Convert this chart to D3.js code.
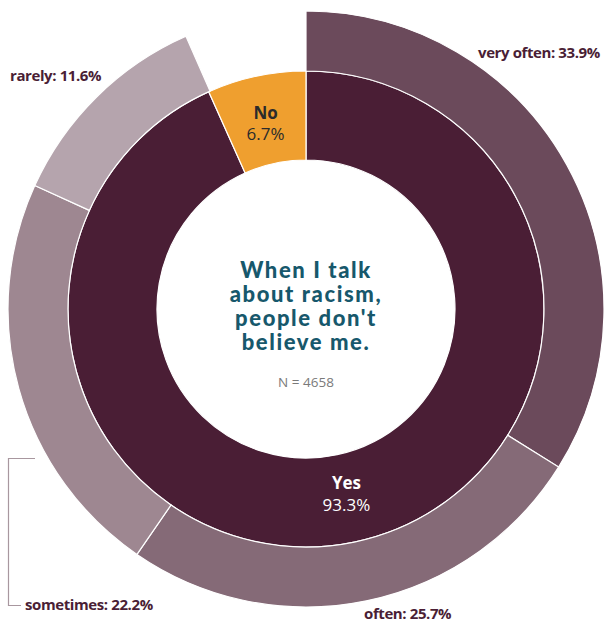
<!DOCTYPE html>
<html>
<head>
<meta charset="utf-8">
<script src="https://cdn.jsdelivr.net/npm/d3@7"></script>
<style>
  html, body { margin: 0; padding: 0; background: #fff; }
  svg { display: block; }
</style>
</head>
<body>
<script>
// Inner ring: yes / no answers (percent of all respondents)
const answerLabels = ["Yes", "No"];
const answerValues = [93.3, 6.7];
const answerColors = ["#4a1e35", "#ef9f2f"];

// Outer ring: how often, for those who answered yes (percent of all respondents)
const freqLabels = ["very often", "often", "sometimes", "rarely"];
const freqValues = [33.9, 25.7, 22.2, 11.6];
const freqColors = ["#6b4a5b", "#856a77", "#9e8791", "#b5a4ad"];

const titleLines = ["When I talk", "about racism,", "people don't", "believe me."];
const sampleNote = "N = 4658";

const W = 605, H = 623;
const cx = 306, cy = 309;
const rInner0 = 149, rInner1 = 238, rOuter1 = 298;

const svg = d3.select("body").append("svg")
  .attr("width", W).attr("height", H);

const g = svg.append("g").attr("transform", `translate(${cx},${cy})`);

// Both rings share one angular scale: 100% of respondents = full circle
const angle = d3.scaleLinear().domain([0, 100]).range([0, 2 * Math.PI]);

const pieInner = d3.pie().sort(null).value(d => d.value)
  .startAngle(angle(0)).endAngle(angle(100));
const innerData = pieInner(answerLabels.map((l, i) => ({ label: l, value: answerValues[i], color: answerColors[i] })));

const arcInner = d3.arc().innerRadius(rInner0).outerRadius(rInner1);

g.selectAll("path.inner").data(innerData).join("path")
  .attr("class", "inner")
  .attr("d", arcInner)
  .attr("fill", d => d.data.color)
  .attr("stroke", "#fff").attr("stroke-width", 1.2);

// Outer ring spans only the "yes" share of the circle
const yesTotal = d3.sum(freqValues);
const pieOuter = d3.pie().sort(null).value(d => d.value)
  .startAngle(angle(0)).endAngle(angle(yesTotal));
const outerData = pieOuter(freqLabels.map((l, i) => ({ label: l, value: freqValues[i], color: freqColors[i] })));

const arcOuter = d3.arc().innerRadius(rInner1).outerRadius(rOuter1);

g.selectAll("path.outer").data(outerData).join("path")
  .attr("class", "outer")
  .attr("d", arcOuter)
  .attr("fill", d => d.data.color)
  .attr("stroke", "#fff").attr("stroke-width", 1.2);

// Inner slice labels near slice centroids
const innerOffsets = [[-9, 13], [-1, 20]];
const innerText = g.selectAll("g.ilabel").data(innerData).join("g")
  .attr("class", "ilabel")
  .attr("transform", d => {
    const [x, y] = arcInner.centroid(d);
    return `translate(${x},${y})`;
  });
innerText.append("text")
  .attr("text-anchor", "middle")
  .attr("y", (d, i) => innerOffsets[i][0])
  .attr("font-family", "'Open Sans', sans-serif")
  .attr("font-weight", 700)
  .attr("font-size", 17)
  .attr("fill", (d, i) => i === 0 ? "#ffffff" : "#2b2b2b")
  .text(d => d.data.label);
innerText.append("text")
  .attr("text-anchor", "middle")
  .attr("y", (d, i) => innerOffsets[i][1])
  .attr("font-family", "'Open Sans', sans-serif")
  .attr("font-weight", 400)
  .attr("font-size", 17)
  .attr("fill", (d, i) => i === 0 ? "#ffffff" : "#2b2b2b")
  .text(d => d3.format(".1f")(d.data.value) + "%");

// Outer labels, placed around the ring
const labelPlacement = {
  "very often": { x: 478, y: 58, anchor: "start" },
  "often":      { x: 364, y: 619, anchor: "start" },
  "sometimes":  { x: 25,  y: 610, anchor: "start" },
  "rarely":     { x: 10,  y: 81,  anchor: "start" }
};
svg.selectAll("text.olabel").data(outerData).join("text")
  .attr("class", "olabel")
  .attr("x", d => labelPlacement[d.data.label].x)
  .attr("y", d => labelPlacement[d.data.label].y)
  .attr("text-anchor", d => labelPlacement[d.data.label].anchor)
  .attr("font-family", "'Open Sans', sans-serif")
  .attr("font-weight", 700)
  .attr("font-size", 15)
  .attr("letter-spacing", -0.4)
  .attr("fill", "#4a1e35")
  .text(d => `${d.data.label}: ${d3.format(".1f")(d.data.value)}%`);

// Bracket tying the "sometimes" label to its segment
svg.append("path")
  .attr("d", "M35,458.5 H8.5 V605.5 H21")
  .attr("fill", "none")
  .attr("stroke", "#a8979f")
  .attr("stroke-width", 1.2);

// Centre title
const title = g.append("text")
  .attr("text-anchor", "middle")
  .attr("font-family", "Lato, sans-serif")
  .attr("font-weight", 900)
  .attr("font-size", 22)
  .attr("letter-spacing", 1.6)
  .attr("fill", "#17586c");
title.selectAll("tspan").data(titleLines).join("tspan")
  .attr("x", 0)
  .attr("y", (d, i) => -31 + i * 24)
  .text(d => d);

g.append("text")
  .attr("text-anchor", "middle")
  .attr("y", 78)
  .attr("font-family", "'Open Sans', sans-serif")
  .attr("font-size", 13.5)
  .attr("fill", "#7a7a7a")
  .text(sampleNote);
</script>
</body>
</html>
